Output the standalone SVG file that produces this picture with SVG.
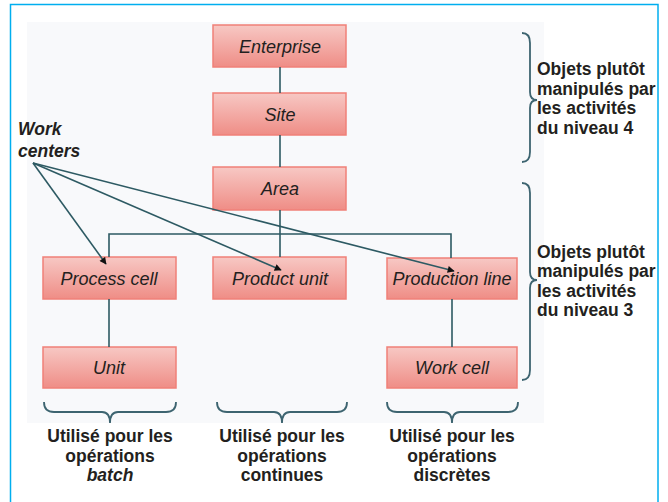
<svg xmlns="http://www.w3.org/2000/svg" width="668" height="502" viewBox="0 0 668 502">
  <defs>
    <linearGradient id="boxFill" x1="0" y1="0" x2="0" y2="1">
      <stop offset="0" stop-color="#f7c8c4"/>
      <stop offset="1" stop-color="#ef8d86"/>
    </linearGradient>
    <marker id="tip" viewBox="0 0 10 10" refX="9" refY="5" markerWidth="8" markerHeight="7" markerUnits="userSpaceOnUse" orient="auto">
      <path d="M0,0 L10,5 L0,10 Z" fill="#111"/>
    </marker>
    <style>
      .box { fill: url(#boxFill); stroke: #f08078; stroke-width: 1.5; }
      .lbl { font-family: "Liberation Sans", Arial, sans-serif; font-style: italic; font-size: 18px; fill: #231f20; text-anchor: middle; }
      .note { font-family: "Liberation Sans", Arial, sans-serif; font-weight: bold; font-size: 17.5px; fill: #231f20; }
      .mid { text-anchor: middle; }
      .wire { stroke: #2d5a63; stroke-width: 1.6; fill: none; }
      .brace { stroke: #3d6470; stroke-width: 1.8; fill: none; }
    </style>
  </defs>

  <!-- frame and panel -->
  <rect x="10.5" y="4.5" width="647.5" height="510" fill="#ffffff" stroke="#00aeef" stroke-width="1.5"/>
  <rect x="27" y="22" width="517" height="401" fill="#f8f9fb"/>

  <!-- hierarchy nodes -->
  <g id="enterprise"><rect class="box" x="213" y="25" width="133" height="42"/><text class="lbl" x="280" y="53">Enterprise</text></g>
  <g id="site"><rect class="box" x="213" y="93" width="133" height="42"/><text class="lbl" x="280" y="121">Site</text></g>
  <g id="area"><rect class="box" x="213" y="167" width="133" height="43"/><text class="lbl" x="280" y="195">Area</text></g>
  <g id="process-cell"><rect class="box" x="43" y="257" width="133" height="42"/><text class="lbl" x="109" y="285">Process cell</text></g>
  <g id="product-unit"><rect class="box" x="213" y="257" width="133" height="42"/><text class="lbl" x="280" y="285">Product unit</text></g>
  <g id="production-line"><rect class="box" x="387" y="258" width="130" height="41"/><text class="lbl" x="452" y="285">Production line</text></g>
  <g id="unit"><rect class="box" x="43" y="347" width="133" height="41"/><text class="lbl" x="109" y="374">Unit</text></g>
  <g id="work-cell"><rect class="box" x="387" y="347" width="130" height="41"/><text class="lbl" x="452" y="374">Work cell</text></g>

  <!-- connectors (drawn over the nodes so the pointers reach inside the boxes) -->
  <g id="connectors">
    <line class="wire" x1="280" y1="67" x2="280" y2="93"/>
    <line class="wire" x1="280" y1="135" x2="280" y2="167"/>
    <line class="wire" x1="280" y1="210" x2="280" y2="257"/>
    <polyline class="wire" points="109,257 109,234 451,234 451,258"/>
    <line class="wire" x1="109" y1="299" x2="109" y2="347"/>
    <line class="wire" x1="452" y1="299" x2="452" y2="347"/>
    <line class="wire" x1="33" y1="163" x2="106" y2="264" marker-end="url(#tip)"/>
    <line class="wire" x1="33" y1="163" x2="281" y2="270" marker-end="url(#tip)"/>
    <line class="wire" x1="33" y1="163" x2="454" y2="271" marker-end="url(#tip)"/>
  </g>

  <!-- work centers label -->
  <g id="work-centers">
    <text class="note" font-style="italic" x="18" y="135">Work</text>
    <text class="note" font-style="italic" x="18" y="157">centers</text>
  </g>

  <!-- level braces -->
  <g id="level4">
    <path class="brace" d="M522,33 Q530,33 530,43 L530,92 Q530,100 537,100 Q530,100 530,108 L530,152 Q530,162 522,162"/>
    <text class="note" x="537" y="75">Objets plutôt</text>
    <text class="note" x="537" y="94.5">manipulés par</text>
    <text class="note" x="537" y="114">les activités</text>
    <text class="note" x="537" y="133.5">du niveau 4</text>
  </g>
  <g id="level3">
    <path class="brace" d="M522,183 Q530,183 530,193 L530,272 Q530,280 537,280 Q530,280 530,288 L530,370 Q530,380 522,380"/>
    <text class="note" x="537" y="257.5">Objets plutôt</text>
    <text class="note" x="537" y="277">manipulés par</text>
    <text class="note" x="537" y="296.5">les activités</text>
    <text class="note" x="537" y="316">du niveau 3</text>
  </g>

  <!-- operation type braces -->
  <g id="batch">
    <path class="brace" d="M44,402 Q44,412 54,412 L102,412 Q110,412 110,423 Q110,412 118,412 L166,412 Q176,412 176,402"/>
    <text class="note mid" x="110" y="442">Utilisé pour les</text>
    <text class="note mid" x="110" y="462">opérations</text>
    <text class="note mid" font-style="italic" x="110" y="481">batch</text>
  </g>
  <g id="continuous">
    <path class="brace" d="M217,402 Q217,412 227,412 L274,412 Q282,412 282,423 Q282,412 290,412 L337,412 Q347,412 347,402"/>
    <text class="note mid" x="282" y="442">Utilisé pour les</text>
    <text class="note mid" x="282" y="462">opérations</text>
    <text class="note mid" x="282" y="481">continues</text>
  </g>
  <g id="discrete">
    <path class="brace" d="M387,402 Q387,412 397,412 L444,412 Q452,412 452,423 Q452,412 460,412 L508,412 Q518,412 518,402"/>
    <text class="note mid" x="452" y="442">Utilisé pour les</text>
    <text class="note mid" x="452" y="462">opérations</text>
    <text class="note mid" x="452" y="481">discrètes</text>
  </g>
</svg>
